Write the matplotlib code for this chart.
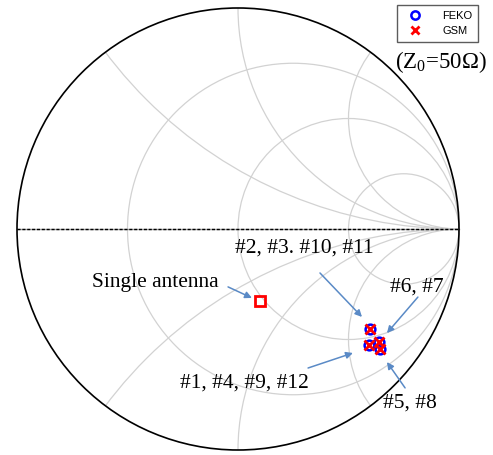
import numpy as np
import matplotlib
matplotlib.use("Agg")
import matplotlib.pyplot as plt
from matplotlib.patches import Circle

plt.rcParams['mathtext.fontset'] = 'custom'
plt.rcParams['mathtext.rm'] = 'Liberation Serif'
plt.rcParams['mathtext.it'] = 'Liberation Serif:italic'

groups = ["#2, #3. #10, #11", "#1, #4, #9, #12", "#6, #7", "#5, #8"]
feko_re = [0.597, 0.593, 0.638, 0.643]
feko_im = [-0.452, -0.525, -0.511, -0.543]
gsm_re = [0.597, 0.593, 0.638, 0.643]
gsm_im = [-0.452, -0.525, -0.511, -0.543]
single_re = [0.098]
single_im = [-0.326]

r_values = [1/3, 1.0, 3.0]
x_values = [0.5, 1.0, 2.0]

fig = plt.figure(figsize=(4.93, 4.55), dpi=100)
ax = fig.add_axes([0, 0, 1, 1])
ax.set_xlim(-238/221, (493-238)/221)
ax.set_ylim(-(455-229)/221, 229/221)
ax.axis('off')

grid_c = '#d2d2d2'
outer = Circle((0, 0), 1, fill=False, ec='black', lw=1.2, zorder=3)
ax.add_patch(outer)
clip = Circle((0, 0), 1, transform=ax.transData, fill=False, ec='none')
ax.add_patch(clip)

for r in r_values:
    c = Circle((r/(r+1), 0), 1/(r+1), fill=False, ec=grid_c, lw=0.9, zorder=1)
    ax.add_patch(c)
    c.set_clip_path(clip)
for xv in x_values:
    for s in (1, -1):
        c = Circle((1, s/xv), 1/xv, fill=False, ec=grid_c, lw=0.9, zorder=1)
        ax.add_patch(c)
        c.set_clip_path(clip)

ax.plot([-1, 1], [0, 0], color='#a0a0a0', lw=1.0, zorder=2)
ax.plot([-1, 1], [0, 0], color='black', lw=1.0, ls=(0, (2.2, 1.3)), zorder=2)

ax.plot(feko_re, feko_im, ls='none', marker='o', mfc='none', mec='blue',
        ms=7, mew=1.8, zorder=5, label='FEKO')
ax.plot(gsm_re, gsm_im, ls='none', marker='x', color='red',
        ms=7, mew=2.0, zorder=6, label='GSM')
ax.plot(single_re, single_im, ls='none', marker='s', mfc='none', mec='red',
        ms=7.5, mew=2, zorder=6)

tfont = dict(family='Liberation Serif', fontsize=15.5)
arrow = dict(arrowstyle='-|>', color='#5a8ac6', lw=1.1, mutation_scale=10,
             shrinkA=0, shrinkB=0)

labels = [
    ("Single antenna", (-0.376, -0.240), (-0.045, -0.262), (0.063, -0.312)),
    (groups[0], (0.299, -0.086), (0.371, -0.199), (0.561, -0.398)),
    (groups[2], (0.810, -0.262), (0.814, -0.308), (0.674, -0.471)),
    (groups[1], (0.027, -0.697), (0.317, -0.629), (0.520, -0.561)),
    (groups[3], (0.778, -0.787), (0.756, -0.719), (0.674, -0.602)),
]
for txt, tpos, a0, a1 in labels:
    ax.text(tpos[0], tpos[1], txt, ha='center', va='center', zorder=7, **tfont)
    ax.annotate('', xy=a1, xytext=a0, arrowprops=arrow, zorder=7)

ax.text((441-238)/221, -(62-229)/221, r'(Z$_0$=50Ω)', ha='center', va='center',
        family='Liberation Serif', fontsize=16.5, zorder=7)

leg = ax.legend(loc='upper left', bbox_to_anchor=(397/493, 1-5/455),
                prop=dict(family='Liberation Sans', size=8), frameon=True,
                fancybox=False, edgecolor='#333333', borderpad=0.5,
                handletextpad=1.4, handlelength=2.2, labelspacing=0.5,
                borderaxespad=0, markerscale=0.85)
leg.get_frame().set_linewidth(1.0)

fig.savefig('out.png', dpi=100)
